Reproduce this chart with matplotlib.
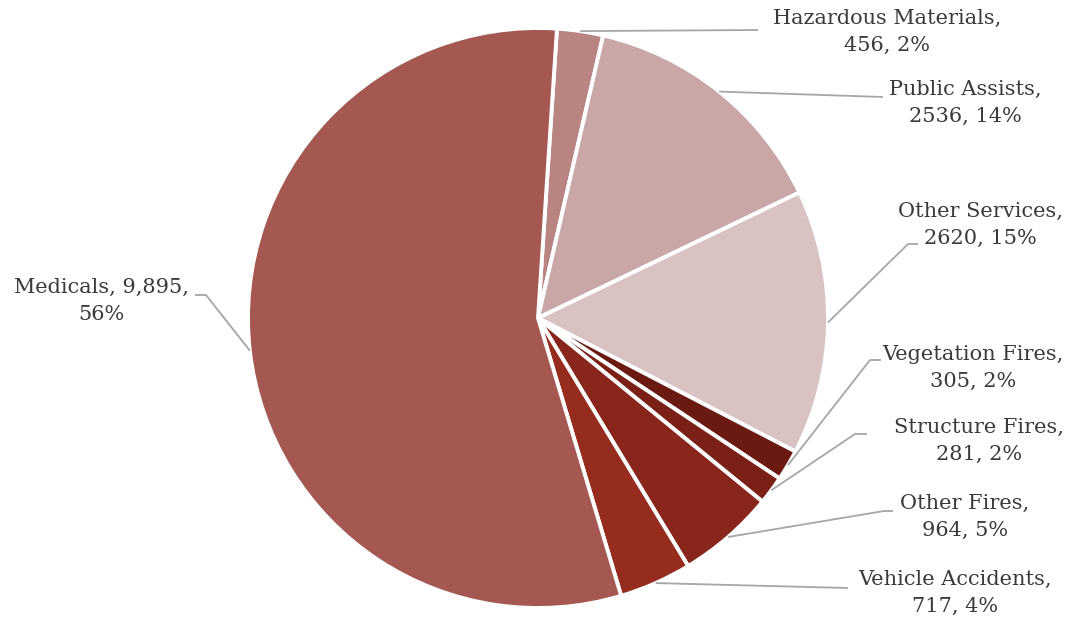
import numpy as np
import matplotlib
matplotlib.use("Agg")
import matplotlib.pyplot as plt

# slices, clockwise from the top
labels = ["Hazardous Materials", "Public Assists", "Other Services", "Vegetation Fires",
          "Structure Fires", "Other Fires", "Vehicle Accidents", "Medicals"]
values = [456, 2536, 2620, 305, 281, 964, 717, 9895]
label_texts = ["Hazardous Materials,\n456, 2%", "Public Assists,\n2536, 14%",
               "Other Services,\n2620, 15%", "Vegetation Fires,\n305, 2%",
               "Structure Fires,\n281, 2%", "Other Fires,\n964, 5%",
               "Vehicle Accidents,\n717, 4%", "Medicals, 9,895,\n56%"]
colors = ["#B88582", "#C8A7A6", "#D9C2C2", "#6B1A12",
          "#7B2016", "#88261B", "#952C1E", "#A55851"]

W, H = 1081, 620
fig = plt.figure(figsize=(W / 100, H / 100), dpi=100)
ax = fig.add_axes([0, 0, 1, 1])

cx, cy, r = 538, H - 318, 290
start = 86.25
wedges, _ = ax.pie(values, colors=colors, startangle=start, counterclock=False,
                   center=(cx, cy), radius=r, frame=True,
                   wedgeprops=dict(edgecolor="white", linewidth=2.8))
ax.set_xlim(0, W)
ax.set_ylim(0, H)
ax.set_aspect("equal")
ax.axis("off")

# label layout (pixel coords, y down): text centre, leader bend points
text_pos = [(887, 32), (965, 103), (980, 225), (973, 368),
            (979, 441), (965, 517), (955, 593), (101, 301)]
bends = [[(758, 30)], [(883, 97)], [(908, 244), (918, 244)], [(870, 360), (881, 360)],
         [(855, 434), (867, 434)], [(884, 511), (893, 511)], [(848, 588)],
         [(206, 295), (195, 295)]]

for w, txt, (tx, ty), pts in zip(wedges, label_texts, text_pos, bends):
    mid = np.deg2rad((w.theta1 + w.theta2) / 2)
    sx, sy = cx + r * np.cos(mid), cy + r * np.sin(mid)
    xs = [sx] + [p[0] for p in pts]
    ys = [sy] + [H - p[1] for p in pts]
    ax.plot(xs, ys, color="#A6A6A6", lw=1.3, solid_capstyle="butt")
    ax.text(tx, H - ty, txt, ha="center", va="center", fontsize=15,
            family="DejaVu Serif", color="#3A3A3A", linespacing=1.5)

fig.savefig("out.png", dpi=100)
